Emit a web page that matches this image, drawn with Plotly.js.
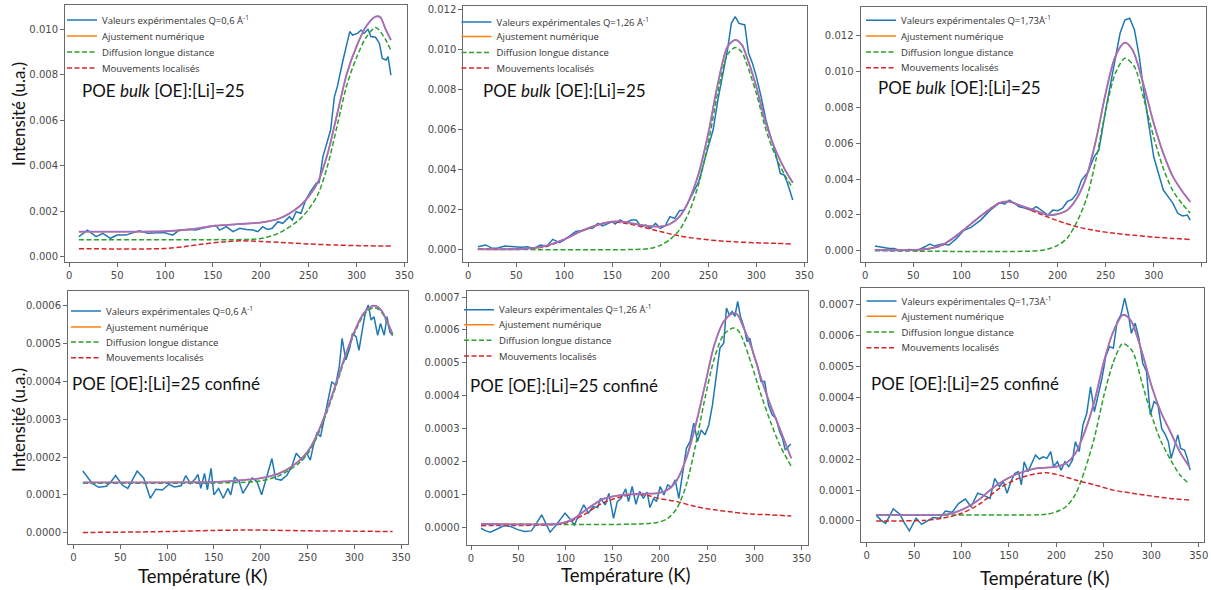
<!DOCTYPE html>
<html><head><meta charset="utf-8">
<script src="https://cdn.plot.ly/plotly-3.0.1.min.js"></script>
<style>html,body{margin:0;padding:0;background:#fff}#chart{width:1211px;height:590px}</style>
</head><body><div id="chart"></div>
<script>
// ---------- Panel 1 : POE bulk, Q=0,6 ----------
const p1ExpT = [10,19,28,35,43,50,59,66,73,82,90,99,108,115,124,132,139,146,153,157,164,171,178,185,192,197,202,207,212,218,223,230,233,237,242,247,252,258,261,265,270,273,277,280,286,293,296,301,305,308,312,315,320,324,327,331,333,336];
const p1Exp = [0.00088,0.00117,0.00088,0.00103,0.00081,0.00095,0.00095,0.00103,0.00114,0.00103,0.00103,0.00106,0.00095,0.00117,0.0012,0.00117,0.00125,0.00132,0.00138,0.00117,0.00132,0.0011,0.00125,0.0012,0.00117,0.0011,0.00132,0.0012,0.00125,0.00154,0.00147,0.00176,0.00161,0.00198,0.00191,0.00249,0.00286,0.00323,0.00326,0.0044,0.00513,0.00557,0.00704,0.00748,0.00865,0.0099,0.00975,0.00982,0.00997,0.00982,0.01,0.00968,0.00965,0.00938,0.00872,0.00865,0.0088,0.00799];
const p1FitT = [10,50,100,130,150,175,200,220,240,250,260,270,280,290,300,310,320,325,330,336];
const p1Fit = [0.0011,0.0011,0.00112,0.00122,0.00135,0.00143,0.0015,0.00169,0.0022,0.00264,0.0033,0.00455,0.0063,0.00806,0.00924,0.01012,0.01056,0.01053,0.01005,0.00953];
const p1LongT = [10,100,150,200,220,240,250,260,270,280,290,300,310,320,330,336];
const p1Long = [0.00075,0.00075,0.00075,0.0008,0.00106,0.00162,0.00208,0.00276,0.00403,0.00579,0.00756,0.00875,0.00964,0.01008,0.00958,0.00906];
const p1LocT = [10,100,120,140,160,180,200,220,250,280,310,336];
const p1Loc = [0.00035,0.00036,0.00044,0.00056,0.00065,0.0007,0.00067,0.00063,0.00056,0.00051,0.00048,0.00047];

// ---------- Panel 2 : POE bulk, Q=1,26 ----------
const p2ExpT = [10,18,25,30,38,45,55,62,68,75,82,88,95,100,107,112,120,126,130,135,140,145,150,153,158,163,170,175,180,185,190,195,200,205,210,215,220,225,230,240,250,255,260,265,270,274,278,282,285,288,292,296,300,305,310,315,320,325,329,332,335,338];
const p2Exp = [0.00013,0.00022,0.00005,0.00005,0.00017,0.00013,0.0001,0.00013,0.00003,0.00022,0.00017,0.0005,0.00033,0.00047,0.00072,0.00089,0.00094,0.00105,0.00107,0.0013,0.00117,0.00127,0.00139,0.00127,0.00147,0.00134,0.00147,0.00147,0.00114,0.00122,0.00105,0.0013,0.00105,0.00117,0.00164,0.00155,0.00194,0.00197,0.00247,0.00339,0.00515,0.00598,0.00749,0.00866,0.01,0.01133,0.01167,0.01133,0.0113,0.01125,0.00983,0.00933,0.00866,0.00766,0.00649,0.00565,0.00481,0.00381,0.00373,0.00339,0.00298,0.00247];
const p2FitT = [10,60,80,100,120,140,150,160,180,200,210,220,230,240,250,260,270,278,285,290,300,310,320,330,338];
const p2Fit = [0,0.00003,0.00017,0.0005,0.00097,0.0013,0.00139,0.00139,0.00122,0.00114,0.00127,0.00164,0.00247,0.00381,0.00582,0.00832,0.01016,0.0105,0.01025,0.00966,0.00816,0.00632,0.00498,0.00398,0.00334];
const p2LongT = [10,180,190,200,210,220,230,240,250,260,270,278,285,290,300,310,320,330,338];
const p2Long = [0,0,0.00005,0.0002,0.00049,0.00097,0.00187,0.00328,0.00534,0.00789,0.00976,0.01012,0.00988,0.0093,0.00783,0.006,0.00468,0.00369,0.00307];
const p2LocT = [10,60,80,100,120,140,150,160,180,200,220,240,260,280,300,320,338];
const p2Loc = [0,0.00003,0.00013,0.0005,0.00097,0.0013,0.00137,0.00134,0.00114,0.00089,0.00067,0.00053,0.00043,0.00037,0.00033,0.0003,0.00027];

// ---------- Panel 3 : POE bulk, Q=1,73 ----------
const p3ExpT = [10,17,25,30,37,45,55,62,67,72,80,87,95,102,110,120,130,140,145,150,155,160,167,172,178,183,190,195,200,205,210,215,220,225,232,238,243,250,255,260,265,270,275,280,285,290,295,300,305,310,315,320,325,330,335,338];
const p3Exp = [0.00026,0.00019,0.00013,0.00013,0,0.00007,0.00004,0.00022,0.00037,0.00026,0.00037,0.00032,0.00069,0.00112,0.0013,0.00171,0.00227,0.00268,0.00261,0.00283,0.00265,0.00246,0.00237,0.00227,0.00246,0.00227,0.00199,0.00227,0.00224,0.00237,0.00274,0.00287,0.0032,0.00395,0.00442,0.00525,0.00563,0.00786,0.00935,0.01066,0.01215,0.01289,0.01299,0.01233,0.01085,0.00879,0.00693,0.00525,0.00432,0.00339,0.00302,0.00265,0.00209,0.00194,0.00199,0.00171];
const p3FitT = [10,60,80,100,120,140,150,160,180,190,200,210,220,230,240,250,260,270,278,290,300,310,320,330,338];
const p3Fit = [0.00004,0.00007,0.00032,0.00106,0.00194,0.00268,0.00274,0.00255,0.00218,0.00199,0.00205,0.00227,0.00293,0.00414,0.00619,0.0088,0.01085,0.01163,0.01122,0.00917,0.00712,0.00544,0.00414,0.0033,0.00274];
const p3LongT = [10,180,190,200,210,220,230,240,250,260,270,280,290,300,310,320,330,338];
const p3Long = [0,0,0.0001,0.0003,0.0007,0.0016,0.0029,0.0051,0.0078,0.0099,0.01075,0.01028,0.00842,0.00635,0.0046,0.00335,0.0026,0.0021];
const p3LocT = [10,60,80,100,120,140,150,160,180,200,220,240,260,280,300,320,338];
const p3Loc = [0.00004,0.00007,0.0003,0.00106,0.00194,0.00268,0.00274,0.00255,0.00209,0.00168,0.00134,0.00112,0.00097,0.00086,0.00076,0.00069,0.00063];

// ---------- Panel 4 : POE confiné, Q=0,6 ----------
const p4ExpT = [10,15,20,27,35,40,45,52,58,62,68,75,82,88,95,102,108,115,120,125,130,133,136,140,143,147,150,155,160,165,168,172,177,181,186,191,196,201,206,212,216,222,228,233,238,244,249,253,256,260,264,268,272,276,280,284,287,291,295,298,302,305,308,312,315,318,321,325,328,332,335,338,341];
const p4Exp = [0.000163,0.000148,0.00013,0.00012,0.000123,0.000135,0.000151,0.000126,0.000117,0.000135,0.000163,0.000144,0.000091,0.000115,0.000113,0.000128,0.000121,0.000124,0.000151,0.00013,0.000142,0.000154,0.000117,0.000157,0.000113,0.00017,0.0001,0.000117,0.000091,0.000117,0.0001,0.000147,0.000135,0.000104,0.000126,0.000145,0.000135,0.0001,0.000144,0.000196,0.000142,0.000139,0.000152,0.000174,0.00021,0.000192,0.00021,0.000192,0.000227,0.000263,0.000254,0.000302,0.000342,0.000399,0.00039,0.000439,0.000514,0.000457,0.000487,0.000527,0.000518,0.000482,0.000527,0.000584,0.000602,0.000562,0.000571,0.000522,0.000553,0.000522,0.000571,0.000531,0.000522];
const p4FitT = [10,100,150,170,200,220,240,250,260,270,280,290,300,310,320,325,330,341];
const p4Fit = [0.000133,0.000133,0.000134,0.000137,0.000144,0.000157,0.000188,0.000214,0.000258,0.00032,0.00039,0.000465,0.000531,0.00058,0.0006,0.000597,0.000584,0.000525];
const p4LongT = [10,100,150,200,220,240,250,260,270,280,290,300,310,320,325,330,341];
const p4Long = [0.000131,0.000131,0.000131,0.000137,0.000151,0.000182,0.000208,0.000252,0.000314,0.000384,0.00046,0.000526,0.000575,0.000595,0.000592,0.00058,0.000521];
const p4LocT = [10,100,150,180,200,250,300,341];
const p4Loc = [0.0000005,0.000003,0.000006,0.000007,0.000007,0.000005,0.000004,0.000003];

// ---------- Panel 5 : POE confiné, Q=1,26 ----------
const p5ExpT = [10.6,15.5,20.5,28.4,35.3,42.2,50.1,57,63.9,69.9,74.8,79.7,83.7,89.6,95.5,99.5,104.4,109.4,114.3,119.3,124.2,129.1,134.1,137,142,145.9,150.9,154.8,158.8,163.7,166.7,170.6,174.6,178.5,182.5,186.4,189.4,193.4,196.3,200.3,204.2,208.2,212.1,216.1,220,224,228,231.9,235.8,239.8,243.7,247.7,251.7,255.6,259.6,263.5,267.5,270.4,273.4,276.4,279.3,282.3,285.2,289.2,292.2,295.1,299.1,303,307,310.9,314.9,318.8,322.8,326.7,329.7,332.7,338.5];
const p5Exp = [-0.000003,-0.000011,-0.000015,-0.000003,0.000005,0.000002,-0.000008,-0.000013,-0.000011,0.000015,0.000038,0.000009,-0.000015,0.000005,0.000027,0.000043,0.000027,0.000007,0.000038,0.000068,0.000043,0.000063,0.00006,0.000088,0.000068,0.000103,0.000027,0.000078,0.000088,0.000117,0.000078,0.000124,0.00007,0.000109,0.000088,0.000107,0.00006,0.000088,0.000078,0.000124,0.000098,0.000129,0.000121,0.000144,0.000088,0.000169,0.00024,0.000261,0.000317,0.000261,0.000296,0.000281,0.000311,0.000372,0.000464,0.000545,0.00056,0.000667,0.000646,0.000656,0.000641,0.000687,0.000641,0.000606,0.000565,0.000575,0.000525,0.000494,0.000443,0.000443,0.000372,0.000342,0.000332,0.000291,0.000271,0.000235,0.000253];
const p5FitT = [10.6,89.6,99.5,109.4,119.3,129.1,139,148.9,158.8,168.7,178.5,198.3,208.2,218,227.9,237.8,247.7,257.6,267.5,277.3,282.3,287.2,297.1,307,316.9,326.7,339];
const p5Fit = [0.00001,0.00001,0.000015,0.000027,0.000048,0.000068,0.000085,0.000093,0.000098,0.0001,0.000102,0.000104,0.000114,0.000144,0.00021,0.000311,0.000433,0.000555,0.000626,0.000651,0.000646,0.000616,0.000545,0.000453,0.000372,0.000301,0.00021];
const p5LongT = [10.6,178.5,198.3,208.2,218,227.9,237.8,247.7,257.6,267.5,277.3,282.3,287.2,297.1,307,316.9,326.7,339];
const p5Long = [0.00001,0.00001,0.000015,0.000027,0.000058,0.000129,0.000251,0.000393,0.000514,0.000586,0.000606,0.0006,0.000575,0.000494,0.000403,0.000322,0.000251,0.000185];
const p5LocT = [10.6,79.7,99.5,119.3,139,158.8,173.6,188.4,198.3,218,237.8,257.6,277.3,297.1,316.9,339];
const p5Loc = [0.000005,0.000007,0.000012,0.000038,0.000073,0.000093,0.0001,0.000096,0.000088,0.000078,0.000063,0.000053,0.000046,0.00004,0.000038,0.000034];

// ---------- Panel 6 : POE confiné, Q=1,73 ----------
const p6ExpT = [10,15,20,28,35,40,45,52,58,63,70,77,83,90,97,104,110,117,123,130,135,140,144,148,152,156,160,163,166,170,174,178,182,186,190,194,197,201,205,209,213,217,220,224,228,232,236,240,244,248,252,256,260,264,268,272,276,279,283,287,291,295,299,303,307,311,315,318,321,325,328,331,335,338,341];
const p6Exp = [0.000019,0.000003,-0.000008,0.000039,0.000022,-0.000008,-0.000032,0.000009,-0.000011,-0.000002,0.000011,0.000009,0.000032,0.000028,0.000057,0.000071,0.000046,0.00009,0.000084,0.000073,0.000138,0.000111,0.000127,0.00009,0.000127,0.000154,0.00016,0.000117,0.000192,0.00016,0.000187,0.000214,0.000201,0.000208,0.000203,0.000225,0.000176,0.000192,0.000165,0.000192,0.000176,0.000198,0.000257,0.000225,0.000311,0.000349,0.000435,0.000354,0.000408,0.000462,0.000533,0.000565,0.00056,0.000646,0.000668,0.000722,0.000668,0.000608,0.000641,0.000592,0.000511,0.000484,0.000344,0.000387,0.000376,0.0003,0.000279,0.000257,0.000203,0.000246,0.000279,0.000235,0.00023,0.000203,0.000165];
const p6FitT = [10,80,90,100,110,120,130,140,150,160,170,180,190,200,210,220,230,240,250,260,270,275,280,290,300,310,320,330,340];
const p6Fit = [0.00002,0.00002,0.000025,0.000036,0.000052,0.000073,0.0001,0.000122,0.00014,0.000154,0.000164,0.000171,0.000173,0.000176,0.000187,0.000219,0.00029,0.000387,0.000516,0.000614,0.000668,0.000662,0.000641,0.000549,0.000441,0.000354,0.00029,0.000225,0.000176];
const p6LongT = [10,180,190,200,210,220,230,240,250,260,270,280,290,300,310,320,330,340];
const p6Long = [0.00002,0.00002,0.000022,0.00003,0.000046,0.000086,0.000165,0.00027,0.000406,0.000514,0.000575,0.000551,0.00045,0.000345,0.00026,0.0002,0.00015,0.00012];
const p6LocT = [10,60,80,100,120,140,160,180,190,200,220,240,260,280,300,320,340];
const p6Loc = [0,0.000002,0.000009,0.000025,0.000057,0.000106,0.000138,0.000154,0.000156,0.000151,0.000133,0.000117,0.0001,0.00009,0.000081,0.000073,0.000068];

// ---------- Labels ----------
const qLabels = ['Q=0,6 Å<sup>-1</sup>','Q=1,26 Å<sup>-1</sup>','Q=1,73Å<sup>-1</sup>','Q=0,6 Å<sup>-1</sup>','Q=1,26 Å<sup>-1</sup>','Q=1,73Å<sup>-1</sup>'];
const sampleLabels = ['POE <i>bulk</i> [OE]:[Li]=25','POE <i>bulk</i> [OE]:[Li]=25','POE <i>bulk</i> [OE]:[Li]=25',
  'POE [OE]:[Li]=25 confiné','POE [OE]:[Li]=25 confiné','POE [OE]:[Li]=25 confiné'];
const seriesNames = ['Valeurs expérimentales ','Ajustement numérique','Diffusion longue distance','Mouvements localisés'];
const yTitle = 'Intensité (u.a.)';
const xTitle = 'Température (K)';

// ---------- Layout geometry (page pixels) ----------
const W = 1211, H = 590;
const panels = [
  {d:[p1ExpT,p1Exp,p1FitT,p1Fit,p1LongT,p1Long,p1LocT,p1Loc], f:[65,406.7,5,261.7], xr:[-4.5,352.5], yr:[-0.00022,0.01107], dt:0.002, fmt:'.3f', legX:103, legY:[18,34,50,66], ann:[80,90]},
  {d:[p2ExpT,p2Exp,p2FitT,p2Fit,p2LongT,p2Long,p2LocT,p2Loc], f:[463.3,806.7,6,261.7], xr:[-5.2,352.5], yr:[-0.00062,0.0122], dt:0.002, fmt:'.3f', legX:497.5, legY:[20,34.5,50.5,66], ann:[481,90]},
  {d:[p3ExpT,p3Exp,p3FitT,p3Fit,p3LongT,p3Long,p3LocT,p3Loc], f:[860.5,1206,7,262], xr:[-5.0,354.4], yr:[-0.00063,0.01362], dt:0.002, fmt:'.3f', legX:902, legY:[18.3,34,50,65.7], ann:[876,87]},
  {d:[p4ExpT,p4Exp,p4FitT,p4Fit,p4LongT,p4Long,p4LocT,p4Loc], f:[68,407.7,291,544.3], xr:[-5.9,357.1], yr:[-0.0000307,0.000639], dt:0.0001, fmt:'.4f', legX:107, legY:[309,325,340,355.7], ann:[70,383]},
  {d:[p5ExpT,p5Exp,p5FitT,p5Fit,p5LongT,p5Long,p5LocT,p5Loc], f:[466.5,807.5,291,545], xr:[-4.8,356.2], yr:[-0.0000539,0.0007185], dt:0.0001, fmt:'.4f', legX:500, legY:[307.7,322.7,338.3,354], ann:[468,385]},
  {d:[p6ExpT,p6Exp,p6FitT,p6Fit,p6LongT,p6Long,p6LocT,p6Loc], f:[861,1204.3,288,541.7], xr:[-6.0,355.9], yr:[-0.0000671,0.000755], dt:0.0001, fmt:'.4f', legX:902.5, legY:[299,314.3,330,345.7], ann:[869,383]}
];

const COL = {exp:'#1f77b4', fit:'#ff7f0e', long:'#2ca02c', loc:'#d62728', sum:'#9f6fc4'};
const axisCol = '#6a6a6a';
const data = [];
const layout = {
  width: W, height: H, margin:{l:0,r:0,t:0,b:0},
  paper_bgcolor:'#fff', plot_bgcolor:'#fff', showlegend:true,
  font:{family:'DejaVu Sans, sans-serif', color:'#444'},
  annotations:[], shapes:[]
};

panels.forEach((p,i)=>{
  const k = i+1, xa = 'x'+(k===1?'':k), ya = 'y'+(k===1?'':k);
  const [eT,eV,fT,fV,lT,lV,cT,cV] = p.d;
  const lgName = s => { const n = i*4+s+1; return 'legend'+(n===1?'':n); };
  const common = {type:'scatter', mode:'lines', xaxis:xa, yaxis:ya, hoverinfo:'skip'};
  const dashed = '5px,2.5px';
  data.push(Object.assign({}, common, {x:eT, y:eV, legend:lgName(0), name:seriesNames[0]+qLabels[i], line:{color:COL.exp, width:1.5}}));
  data.push(Object.assign({}, common, {x:fT, y:fV, legend:lgName(1), name:seriesNames[1], line:{color:COL.fit, width:1.5, shape:'spline', smoothing:0.8}}));
  data.push(Object.assign({}, common, {x:lT, y:lV, legend:lgName(2), name:seriesNames[2], line:{color:COL.long, width:1.5, dash:dashed, shape:'spline', smoothing:0.8}}));
  data.push(Object.assign({}, common, {x:cT, y:cV, legend:lgName(3), name:seriesNames[3], line:{color:COL.loc, width:1.5, dash:dashed, shape:'spline', smoothing:0.8}}));
  data.push(Object.assign({}, common, {x:fT, y:fV, name:'fit', showlegend:false, line:{color:COL.sum, width:1.8, shape:'spline', smoothing:0.8}}));

  for (let s=0; s<4; s++) {
    layout[lgName(s)] = {x:(p.legX-41)/W, y:1-(p.legY[s]-12.5)/H, xanchor:'left', yanchor:'top',
      bgcolor:'rgba(255,255,255,0)', borderwidth:0, font:{family:'Open Sans, sans-serif', size:9.5, color:'#333'}};
  }

  const axCommon = {showline:true, mirror:true, linecolor:axisCol, linewidth:1, showgrid:false, zeroline:false,
    ticks:'outside', ticklen:4, tickcolor:axisCol, tickfont:{family:'DejaVu Sans, sans-serif', size:10, color:'#4a4a4a'}};
  layout['xaxis'+(k===1?'':k)] = Object.assign({}, axCommon, {domain:[p.f[0]/W, p.f[1]/W], range:p.xr, anchor:ya, tick0:0, dtick:50});
  layout['yaxis'+(k===1?'':k)] = Object.assign({}, axCommon, {domain:[1-p.f[3]/H, 1-p.f[2]/H], range:p.yr, anchor:xa, tick0:0, dtick:p.dt, tickformat:p.fmt});
  layout.annotations.push({xref:'paper', yref:'paper', x:p.ann[0]/W, y:1-p.ann[1]/H, xanchor:'left', yanchor:'middle',
    text:sampleLabels[i], showarrow:false, font:{family:'Lato, sans-serif', size:17, color:'#111'}});
});

// axis titles
[[18,114],[18,420]].forEach(c=>layout.annotations.push({xref:'paper', yref:'paper', x:c[0]/W, y:1-c[1]/H, xanchor:'center', yanchor:'middle',
  text:yTitle, textangle:-90, showarrow:false, font:{family:'Lato, sans-serif', size:17, color:'#111'}}));
[[202,576],[625,575],[1044,578]].forEach(c=>layout.annotations.push({xref:'paper', yref:'paper', x:c[0]/W, y:1-c[1]/H, xanchor:'center', yanchor:'middle',
  text:xTitle, showarrow:false, font:{family:'Lato, sans-serif', size:18.5, color:'#111'}}));

Plotly.newPlot('chart', data, layout, {displayModeBar:false, staticPlot:true});
</script></body></html>
